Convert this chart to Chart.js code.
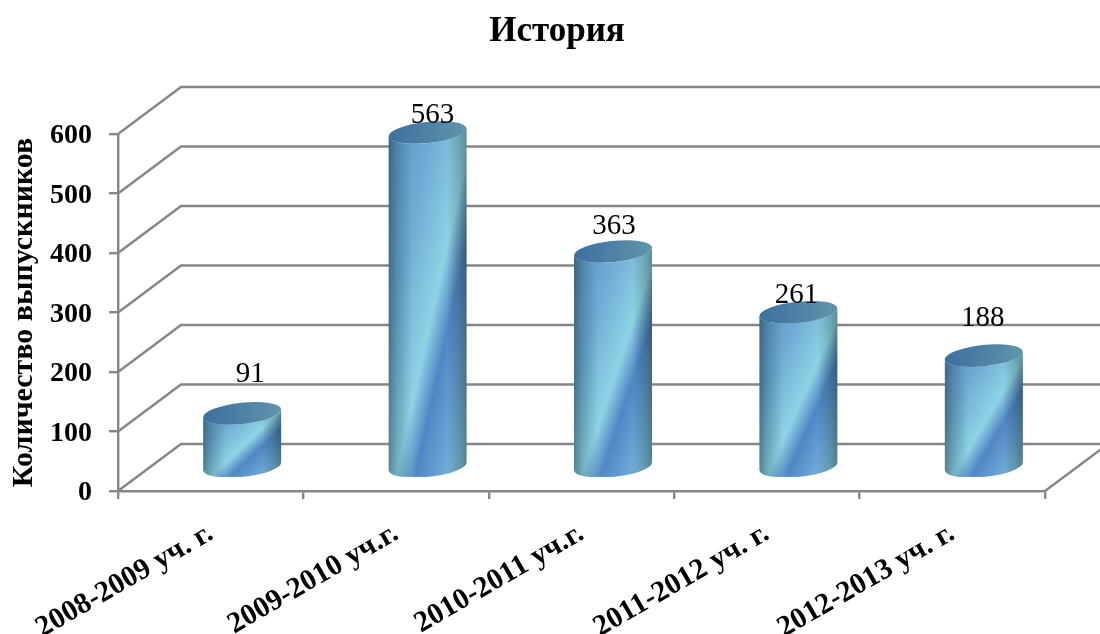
<!DOCTYPE html>
<html lang="ru">
<head>
<meta charset="utf-8">
<style>html,body{margin:0;padding:0;background:#fff}canvas{display:block}</style>
<script src="https://cdn.jsdelivr.net/npm/chart.js@4"></script>
</head>
<body>
<canvas id="c" width="1100" height="634"></canvas>
<script>
const categories = ['2008-2009 уч. г.', '2009-2010 уч.г.', '2010-2011 уч.г.', '2011-2012 уч. г.', '2012-2013 уч. г.'];
const graduates = [91, 563, 363, 261, 188];
const chartTitle = 'История';
const yAxisTitle = 'Количество выпускников';

const FONT = '"Liberation Serif","Times New Roman",serif';
const GRID = '#868686';
const DEPTH_X = 63, DEPTH_Y = 47;
// fine placement of each value label relative to its column top
const labelNudge = [[8, -39], [5, -17], [1, -25], [-2, -17], [-1, -37]];

function cylinderPath(ctx, cx, topY, baseY, rx, ry, rot, t0) {
  ctx.beginPath();
  ctx.ellipse(cx, baseY, rx, ry, rot, t0, t0 + Math.PI, false);
  ctx.ellipse(cx, topY, rx, ry, rot, t0 + Math.PI, t0, true);
  ctx.closePath();
}

const cylinders = {
  id: 'cylinders',
  afterLayout(chart) {
    // the title is centred a little right of the canvas centre in the original
    chart.titleBlock.left = 14;
    chart.titleBlock.right = 1100;
  },
  beforeDatasetsDraw(chart) {
    const ctx = chart.ctx, y = chart.scales.y, a = chart.chartArea;
    ctx.save();
    ctx.strokeStyle = GRID;
    ctx.lineWidth = 2.4;
    ctx.lineJoin = 'miter';
    y.ticks.forEach(t => {
      const py = y.getPixelForValue(t.value);
      ctx.beginPath();
      ctx.moveTo(a.left, py);
      ctx.lineTo(a.left + DEPTH_X, py - DEPTH_Y);
      ctx.lineTo(a.right + DEPTH_X, py - DEPTH_Y);
      ctx.stroke();
    });
    ctx.beginPath();
    ctx.moveTo(a.right, a.bottom);
    ctx.lineTo(a.right + DEPTH_X, a.bottom - DEPTH_Y);
    ctx.stroke();
    ctx.restore();
  },
  afterDatasetsDraw(chart) {
    const ctx = chart.ctx;
    const meta = chart.getDatasetMeta(0);
    meta.data.forEach((bar, i) => {
      const cx = bar.x + DEPTH_X / 2;
      const topY = bar.y - DEPTH_Y / 2;
      const baseY = bar.base - DEPTH_Y / 2;
      const rx = bar.width / 2, ry = 10.6, rot = -6 * Math.PI / 180;
      const t0 = Math.atan2(-ry * Math.sin(rot), rx * Math.cos(rot));
      const h = baseY - topY;

      ctx.save();
      cylinderPath(ctx, cx, topY, baseY, rx, ry, rot, t0);
      ctx.clip();

      // diagonal sheen, scaled to the column's bounding box
      ctx.save();
      const bx = cx - rx, by = topY - ry, bw = 2 * rx, bh = h + 2 * ry;
      ctx.translate(bx, by);
      ctx.scale(bw, bh);
      const g = ctx.createLinearGradient(0, 0, 1, 1);
      g.addColorStop(0, '#5c96c2');
      g.addColorStop(0.3, '#6fabd4');
      g.addColorStop(0.55, '#8ed3e5');
      g.addColorStop(0.6, '#75b0d6');
      g.addColorStop(0.67, '#5087c4');
      g.addColorStop(0.8, '#669fd2');
      g.addColorStop(1, '#86c6de');
      ctx.fillStyle = g;
      ctx.fillRect(0, 0, 1, 1);
      ctx.restore();

      // round shading across the width
      ctx.globalCompositeOperation = 'multiply';
      const s = ctx.createLinearGradient(cx - rx, 0, cx + rx, 0);
      s.addColorStop(0, 'rgb(158,168,165)');
      s.addColorStop(0.1, 'rgb(200,210,210)');
      s.addColorStop(0.3, 'rgb(255,255,255)');
      s.addColorStop(0.75, 'rgb(255,255,255)');
      s.addColorStop(0.9, 'rgb(205,212,208)');
      s.addColorStop(1, 'rgb(165,172,162)');
      ctx.fillStyle = s;
      ctx.fillRect(cx - rx - 2, topY - ry - 6, 2 * rx + 4, h + 2 * ry + 12);
      ctx.restore();

      // cap
      ctx.save();
      const c = ctx.createLinearGradient(cx - rx, 0, cx + rx, 0);
      c.addColorStop(0, '#3d6f9e');
      c.addColorStop(0.5, '#4e82a6');
      c.addColorStop(1, '#5f95aa');
      ctx.fillStyle = c;
      ctx.beginPath();
      ctx.ellipse(cx, topY, rx, ry, rot, 0, Math.PI * 2);
      ctx.fill();
      ctx.restore();

      // value label
      ctx.save();
      ctx.fillStyle = '#000';
      ctx.font = '29px ' + FONT;
      ctx.textAlign = 'center';
      ctx.textBaseline = 'middle';
      ctx.fillText(String(graduates[i]), cx + labelNudge[i][0], topY + labelNudge[i][1]);
      ctx.restore();
    });
  }
};

new Chart(document.getElementById('c'), {
  type: 'bar',
  data: {
    labels: categories,
    datasets: [{
      label: yAxisTitle,
      data: graduates,
      backgroundColor: 'rgba(0,0,0,0)',
      borderWidth: 0,
      categoryPercentage: 1,
      barPercentage: 0.423
    }]
  },
  options: {
    responsive: false,
    animation: false,
    devicePixelRatio: 1,
    layout: { padding: { left: 0, right: 55, top: 0, bottom: 0 } },
    plugins: {
      legend: { display: false },
      tooltip: { enabled: false },
      title: {
        display: true,
        text: chartTitle,
        color: '#000',
        font: { family: FONT, size: 35, weight: 'bold', lineHeight: 1.2 },
        padding: { top: 11, bottom: 81 }
      }
    },
    scales: {
      x: {
        offset: true,
        afterFit(s) { s.height = 143; },
        border: { display: true, color: GRID, width: 2.4 },
        grid: { display: true, drawOnChartArea: false, drawTicks: true, tickLength: 8, color: GRID, lineWidth: 2.4, offset: true },
        ticks: {
          autoSkip: false, minRotation: 30, maxRotation: 30, padding: 17,
          color: '#000',
          font: { family: FONT, size: 29.5, weight: 'bold' }
        }
      },
      y: {
        min: 0,
        max: 600,
        afterFit(s) { s.width = 118; },
        border: { display: true, color: GRID, width: 2.4 },
        grid: { display: true, drawOnChartArea: false, drawTicks: true, tickLength: 9, color: GRID, lineWidth: 2.4 },
        ticks: {
          stepSize: 100, padding: 17, labelOffset: 2,
          color: '#000',
          font: { family: FONT, size: 28, weight: 'bold' }
        },
        title: {
          display: true,
          text: yAxisTitle,
          color: '#000',
          font: { family: FONT, size: 30, weight: 'bold' },
          padding: { top: 6, bottom: 0 }
        }
      }
    }
  },
  plugins: [cylinders]
});
</script>
</body>
</html>
